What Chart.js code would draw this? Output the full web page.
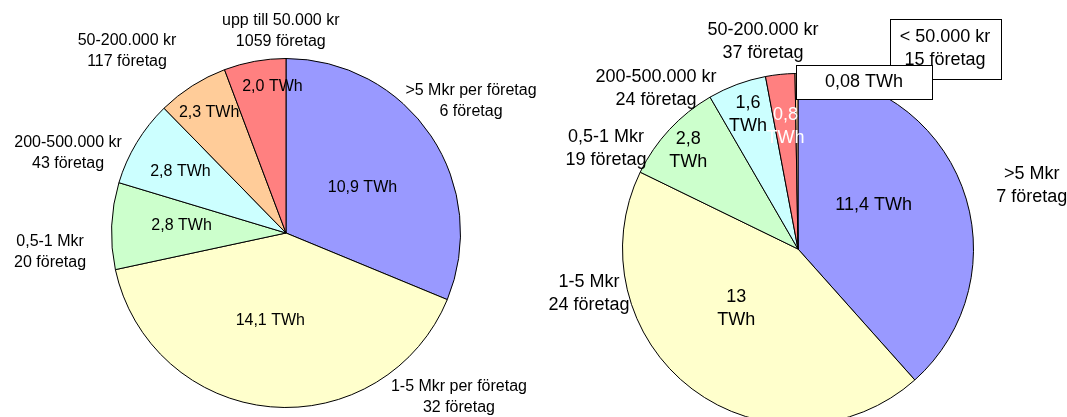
<!DOCTYPE html>
<html>
<head>
<meta charset="utf-8">
<script src="https://cdn.jsdelivr.net/npm/chart.js@4.4.1/dist/chart.umd.min.js"></script>
<style>
  html, body { margin: 0; padding: 0; background: #ffffff; overflow: hidden; width: 1067px; height: 417px; }
  canvas { position: absolute; left: 0; top: 0; }
</style>
</head>
<body>
<canvas id="pieLeft" width="1067" height="460"></canvas>
<canvas id="pieRight" width="1067" height="460"></canvas>
<script>
// ---- Data: left pie ----
const leftCategories = ['>5 Mkr per företag', '1-5 Mkr per företag', '0,5-1 Mkr', '200-500.000 kr', '50-200.000 kr', 'upp till 50.000 kr'];
const leftCompanies = ['6 företag', '32 företag', '20 företag', '43 företag', '117 företag', '1059 företag'];
const leftValues = [10.9, 14.1, 2.8, 2.8, 2.3, 2.0]; // TWh

// ---- Data: right pie ----
const rightCategories = ['>5 Mkr', '1-5 Mkr', '0,5-1 Mkr', '200-500.000 kr', '50-200.000 kr', '< 50.000 kr'];
const rightCompanies = ['7 företag', '24 företag', '19 företag', '24 företag', '37 företag', '15 företag'];
const rightValues = [11.4, 13, 2.8, 1.6, 0.8, 0.08]; // TWh

const leftColours = ['#9999FF', '#FFFFCC', '#CCFFCC', '#CCFFFF', '#FFCC99', '#FF8080'];
const rightColours = ['#9999FF', '#FFFFCC', '#CCFFCC', '#CCFFFF', '#FF8080', '#FFCC99'];

const FONT = '"Liberation Sans", Arial, sans-serif';

// Swedish decimal comma
const formatters = {
  fixed: v => v.toFixed(1).replace('.', ','),
  plain: v => String(v).replace('.', ',')
};

// Builds a plugin that writes value labels inside the slices and
// category labels around the pie, positioned from the arc geometry.
function sliceText(layout) {
  return {
    id: 'sliceText',
    afterDatasetsDraw(chart) {
      const ctx = chart.ctx;
      const meta = chart.getDatasetMeta(0);
      const values = chart.data.datasets[0].data;
      const fmt = formatters[layout.numberStyle];
      const lh = layout.lineHeight;
      ctx.save();
      ctx.font = layout.fontSize + 'px ' + FONT;
      ctx.textAlign = 'center';
      ctx.textBaseline = 'middle';

      const drawBlock = (lines, cx, cy, colour, box) => {
        const top = cy - (lines.length - 1) * lh / 2;
        if (box) {
          const w = Math.round(Math.max(...lines.map(l => ctx.measureText(l).width)) + box.padX * 2);
          const h = Math.round(lines.length * lh + box.padY * 2);
          const bx = Math.round(cx - w / 2) + 0.5, by = Math.round(cy - h / 2) + 0.5;
          ctx.fillStyle = '#ffffff';
          ctx.fillRect(bx, by, w, h);
          ctx.strokeStyle = '#000000';
          ctx.lineWidth = 1;
          ctx.strokeRect(bx, by, w, h);
        }
        ctx.fillStyle = colour;
        lines.forEach((l, k) => ctx.fillText(l, cx, top + k * lh));
      };

      // category labels outside the pie, offsets in units of the pie radius
      meta.data.forEach((arc, i) => {
        const pos = layout.outer[i];
        const R = arc.outerRadius;
        drawBlock([chart.data.labels[i], layout.companies[i]],
          arc.x + pos.fx * R, arc.y + pos.fy * R, '#000000', pos.box);
      });

      // value labels inside the slices
      meta.data.forEach((arc, i) => {
        const cfg = layout.inner[i];
        const R = arc.outerRadius;
        const txt = fmt(values[i]);
        const lines = cfg.split ? [txt, 'TWh'] : [txt + ' TWh'];
        let cx, cy;
        if (cfg.at) {
          cx = arc.x + cfg.at[0] * R;
          cy = arc.y + cfg.at[1] * R;
        } else {
          const mid = (arc.startAngle + arc.endAngle) / 2 + (cfg.d || 0) * Math.PI / 180;
          cx = arc.x + Math.cos(mid) * cfg.r * R;
          cy = arc.y + Math.sin(mid) * cfg.r * R;
        }
        drawBlock(lines, cx, cy, cfg.colour || '#000000', cfg.box);
      });
      ctx.restore();
    }
  };
}

function makePie(id, categories, values, colours, area, layout) {
  const canvas = document.getElementById(id);
  return new Chart(canvas, {
    type: 'pie',
    data: {
      labels: categories,
      datasets: [{
        data: values,
        backgroundColor: colours,
        borderColor: '#000000',
        borderWidth: 1,
        hoverOffset: 0,
        hoverBorderWidth: 1
      }]
    },
    options: {
      responsive: false,
      animation: false,
      events: [],
      layout: {
        padding: {
          left: area.left,
          top: area.top,
          right: canvas.width - area.left - area.size,
          bottom: canvas.height - area.top - area.size
        }
      },
      plugins: {
        legend: { display: false },
        tooltip: { enabled: false }
      }
    },
    plugins: [sliceText(layout)]
  });
}

makePie('pieLeft', leftCategories, leftValues, leftColours,
  { left: 111, top: 58, size: 350 },
  {
    fontSize: 16, lineHeight: 21.5, numberStyle: 'fixed', companies: leftCompanies,
    outer: [
      { fx: 1.060, fy: -0.756 },
      { fx: 0.991, fy: 0.940 },
      { fx: -1.352, fy: 0.109 },
      { fx: -1.249, fy: -0.458 },
      { fx: -0.911, fy: -1.043 },
      { fx: -0.030, fy: -1.158 }
    ],
    inner: [
      { r: 0.51, d: 3 },
      { r: 0.51, d: 5 },
      { r: 0.60, d: 2 },
      { r: 0.70, d: -1 },
      { r: 0.82, d: 0 },
      { r: 0.84, d: 5 }
    ]
  });

makePie('pieRight', rightCategories, rightValues, rightColours,
  { left: 622, top: 73, size: 352 },
  {
    fontSize: 18, lineHeight: 23, numberStyle: 'plain', companies: rightCompanies,
    outer: [
      { fx: 1.332, fy: -0.362 },
      { fx: -1.191, fy: 0.254 },
      { fx: -1.094, fy: -0.573 },
      { fx: -0.809, fy: -0.915 },
      { fx: -0.199, fy: -1.185 },
      { fx: 0.838, fy: -1.142, box: { padX: 10, padY: 7 } }
    ],
    inner: [
      { r: 0.50, d: -9.5 },
      { r: 0.49, d: 8.8, split: true },
      { r: 0.84, d: -1, split: true },
      { r: 0.82, d: 0, split: true },
      { r: 0.70, d: 0, split: true, colour: '#ffffff' },
      { at: [0.376, -0.952], box: { padX: 29, padY: 5.5 } }
    ]
  });
</script>
</body>
</html>
